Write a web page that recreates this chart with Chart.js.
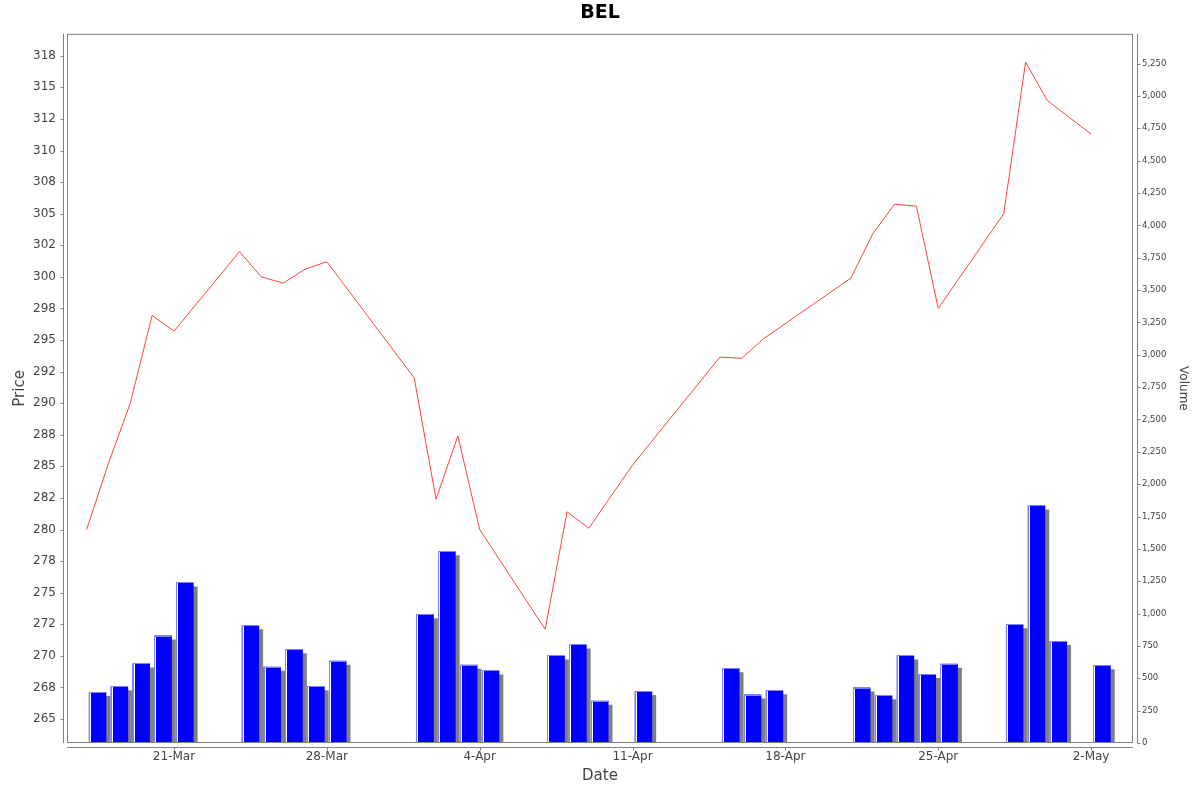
<!DOCTYPE html>
<html>
<head>
<meta charset="utf-8">
<title>BEL</title>
<script src="https://cdn.jsdelivr.net/npm/chart.js@4.4.1/dist/chart.umd.min.js"></script>
<style>
  html, body { margin: 0; padding: 0; background: #fff; }
  #wrap { width: 1200px; height: 792px; }
</style>
</head>
<body>
<div id="wrap"><canvas id="priceChart"></canvas></div>
<script>
// Handelstage (2025), Schlusskurse und Volumen
const tradeDates = [
    '2025-03-17', '2025-03-18', '2025-03-19', '2025-03-20', '2025-03-21',
    '2025-03-24', '2025-03-25', '2025-03-26', '2025-03-27', '2025-03-28',
    '2025-04-01', '2025-04-02', '2025-04-03', '2025-04-04',
    '2025-04-07', '2025-04-08', '2025-04-09', '2025-04-11',
    '2025-04-15', '2025-04-16', '2025-04-17',
    '2025-04-21', '2025-04-22', '2025-04-23', '2025-04-24', '2025-04-25',
    '2025-04-28', '2025-04-29', '2025-04-30',
    '2025-05-02'
];
const closePrices = [
    280.0, 285.25, 290.0, 296.95, 295.7,
    302.0, 300.0, 299.5, 300.6, 301.2,
    292.0, 282.4, 287.4, 280.0,
    272.1, 281.4, 280.1, 285.1,
    293.65, 293.55, 295.1,
    299.9, 303.4, 305.75, 305.6, 297.5,
    305.0, 317.0, 313.95,
    311.3
];
const volumes = [
    394, 438, 615, 830, 1241,
    909, 590, 724, 438, 636,
    994, 1481, 605, 561,
    677, 762, 327, 402,
    577, 374, 407,
    428, 368, 677, 533, 613,
    917, 1836, 788,
    600
];

// Achsen-Ticks
const dateTicks = ['2025-03-21', '2025-03-28', '2025-04-04', '2025-04-11', '2025-04-18', '2025-04-25', '2025-05-02'];
const priceTicks = [265, 267.5, 270, 272.5, 275, 277.5, 280, 282.5, 285, 287.5, 290, 292.5,
                    295, 297.5, 300, 302.5, 305, 307.5, 310, 312.5, 315, 317.5];
const volumeTicks = [0, 250, 500, 750, 1000, 1250, 1500, 1750, 2000, 2250, 2500, 2750,
                     3000, 3250, 3500, 3750, 4000, 4250, 4500, 4750, 5000, 5250];
const monthNames = ['Jan', 'Feb', 'Mar', 'Apr', 'May', 'Jun', 'Jul', 'Aug', 'Sep', 'Oct', 'Nov', 'Dec'];

const fontFamily = "'DejaVu Sans', sans-serif";
const textGrey = '#444444';
const frameGrey = '#808080';

// x = Tage ab 21-Mar
const anchorMs = Date.UTC(2025, 2, 21);
const dayMs = 86400000;

function toDay(s) {
    const [y, m, d] = s.split('-').map(Number);
    return (Date.UTC(y, m - 1, d) - anchorMs) / dayMs;
}

function dayLabel(v) {
    const d = new Date(anchorMs + v * dayMs);
    return `${d.getUTCDate()}-${monthNames[d.getUTCMonth()]}`;
}

// Java-artiges Runden (half even) für die Preis-Ticks
function roundHalfEven(v) {
    const f = Math.floor(v);
    if (Math.abs(v - f - 0.5) < 1e-9) return (f % 2 === 0) ? f : f + 1;
    return Math.round(v);
}

const dayNums = tradeDates.map(toDay);
// Linie am Tagesanfang, Balken über die Tagesmitte
const priceData = dayNums.map((d, i) => ({ x: d, y: closePrices[i] }));
const volumeData = dayNums.map((d, i) => ({ x: d + 0.5, y: volumes[i] }));

// grauer Schatten + heller Rand an den Volumenbalken
const barShadow = {
    id: 'barShadow',
    beforeDatasetDraw(chart, args) {
        if (args.meta.type !== 'bar') return;
        const ctx = chart.ctx;
        const r = chart.currentDevicePixelRatio || 1;
        ctx.save();
        ctx.shadowColor = frameGrey;
        ctx.shadowBlur = 0;
        ctx.shadowOffsetX = 4 * r;
        ctx.shadowOffsetY = 4 * r;
    },
    afterDatasetDraw(chart, args) {
        if (args.meta.type !== 'bar') return;
        const ctx = chart.ctx;
        ctx.restore();
        const a = chart.chartArea;
        ctx.save();
        ctx.beginPath();
        ctx.rect(a.left, a.top, a.width, a.height);
        ctx.clip();
        args.meta.data.forEach(bar => {
            const { x, y, base, width } = bar.getProps(['x', 'y', 'base', 'width'], true);
            const left = Math.round(x - width / 2);
            const top = Math.round(y);
            ctx.fillStyle = '#8080ff';
            ctx.fillRect(left, top, 1, base - top);
            ctx.fillRect(left, top, Math.round(width), 1);
            ctx.fillStyle = '#ffffff';
            ctx.fillRect(left + 1, top + 1, 1, base - top - 1);
        });
        ctx.restore();
    }
};

// Rahmen um den Plot und abgesetzte Achsenlinien
const plotFrame = {
    id: 'plotFrame',
    afterDraw(chart) {
        const { ctx, chartArea: a, scales } = chart;
        const gap = 4, tick = 3;
        ctx.save();
        ctx.strokeStyle = frameGrey;
        ctx.lineWidth = 1;
        ctx.strokeRect(a.left + 0.5, a.top + 0.5, a.width - 1, a.height - 1);

        ctx.beginPath();
        // linke Achse
        const xl = Math.round(a.left - gap) + 0.5;
        ctx.moveTo(xl, a.top); ctx.lineTo(xl, a.bottom);
        scales.yPrice.ticks.forEach(t => {
            const py = Math.round(scales.yPrice.getPixelForValue(t.value)) + 0.5;
            ctx.moveTo(xl, py); ctx.lineTo(xl - tick, py);
        });
        // rechte Achse
        const xr = Math.round(a.right + gap) + 0.5;
        ctx.moveTo(xr, a.top); ctx.lineTo(xr, a.bottom);
        scales.yVol.ticks.forEach(t => {
            const py = Math.round(scales.yVol.getPixelForValue(t.value)) + 0.5;
            ctx.moveTo(xr, py); ctx.lineTo(xr + tick, py);
        });
        // Datumsachse
        const yb = Math.round(a.bottom + gap) + 0.5;
        ctx.moveTo(a.left, yb); ctx.lineTo(a.right, yb);
        scales.x.ticks.forEach(t => {
            const px = Math.round(scales.x.getPixelForValue(t.value)) + 0.5;
            ctx.moveTo(px, yb); ctx.lineTo(px, yb + tick);
        });
        ctx.stroke();
        ctx.restore();
    }
};

function hiddenGrid(len) {
    return { display: true, drawOnChartArea: false, drawTicks: true, tickLength: len, color: 'rgba(0,0,0,0)' };
}

const ctx = document.getElementById('priceChart').getContext('2d');

new Chart(ctx, {
    type: 'bar',
    data: {
        datasets: [
            {
                type: 'line',
                label: 'Price',
                data: priceData,
                yAxisID: 'yPrice',
                borderColor: '#ff4040',
                borderWidth: 1,
                pointRadius: 0,
                fill: false,
                tension: 0,
                order: 0
            },
            {
                type: 'bar',
                label: 'Volume',
                data: volumeData,
                yAxisID: 'yVol',
                backgroundColor: '#0000ff',
                borderWidth: 0,
                categoryPercentage: 0.8,
                barPercentage: 1.0,
                clip: 0,
                order: 1
            }
        ]
    },
    options: {
        responsive: true,
        maintainAspectRatio: false,
        animation: false,
        layout: { padding: 0 },
        plugins: {
            legend: { display: false },
            tooltip: { enabled: false },
            title: {
                display: true,
                text: 'BEL',
                color: '#000000',
                font: { family: fontFamily, size: 19, weight: 'bold' },
                padding: { top: 2, bottom: 9 }
            }
        },
        scales: {
            x: {
                type: 'linear',
                position: 'bottom',
                offset: false,
                min: -4.9,
                max: 43.92,
                afterFit: s => { s.height = 49; },
                afterBuildTicks: s => { s.ticks = dateTicks.map(d => ({ value: toDay(d) })); },
                grid: hiddenGrid(4),
                border: { display: false },
                ticks: {
                    padding: 3,
                    maxRotation: 0,
                    autoSkip: false,
                    color: textGrey,
                    font: { family: fontFamily, size: 12 },
                    callback: v => dayLabel(v)
                },
                title: {
                    display: true,
                    text: 'Date',
                    color: textGrey,
                    font: { family: fontFamily, size: 15 },
                    padding: { top: 0, bottom: 7 }
                }
            },
            yPrice: {
                type: 'linear',
                position: 'left',
                min: 263.1,
                max: 319.24,
                afterFit: s => { s.width = 67; },
                afterBuildTicks: s => { s.ticks = priceTicks.map(v => ({ value: v })); },
                grid: hiddenGrid(7),
                border: { display: false },
                ticks: {
                    padding: 4,
                    autoSkip: false,
                    color: textGrey,
                    font: { family: fontFamily, size: 12 },
                    callback: v => String(roundHalfEven(v))
                },
                title: {
                    display: true,
                    text: 'Price',
                    color: textGrey,
                    font: { family: fontFamily, size: 15 },
                    padding: { top: 11, bottom: 0 }
                }
            },
            yVol: {
                type: 'linear',
                position: 'right',
                min: 0,
                max: 5480,
                afterFit: s => { s.width = 67; },
                afterBuildTicks: s => { s.ticks = volumeTicks.map(v => ({ value: v })); },
                grid: hiddenGrid(5),
                border: { display: false },
                ticks: {
                    padding: 4,
                    autoSkip: false,
                    color: textGrey,
                    font: { family: fontFamily, size: 8.5 },
                    callback: v => v.toLocaleString('en-US')
                },
                title: {
                    display: true,
                    text: 'Volume',
                    color: textGrey,
                    font: { family: fontFamily, size: 12 },
                    padding: { top: 10, bottom: 0 }
                }
            }
        }
    },
    plugins: [barShadow, plotFrame]
});
</script>
</body>
</html>
